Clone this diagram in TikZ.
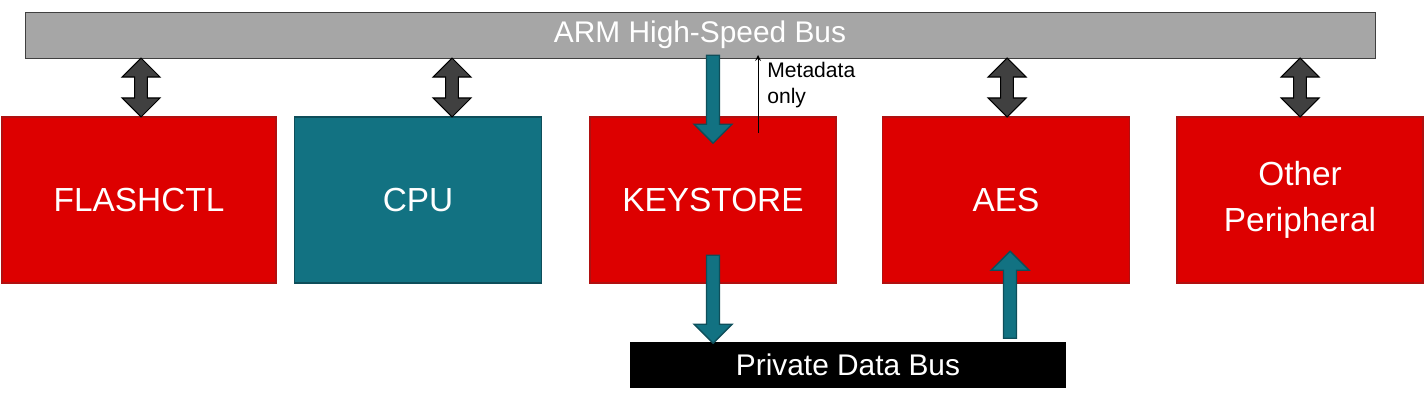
\documentclass[tikz,border=0pt]{standalone}
\usepackage{fontspec}
\setmainfont{Liberation Sans}
\usetikzlibrary{shapes.arrows}
\definecolor{red1}{HTML}{DD0000}
\definecolor{redb}{HTML}{B01010}
\definecolor{teal1}{HTML}{127282}
\definecolor{tealb}{HTML}{0E4E5A}
\definecolor{dg}{HTML}{404040}
\begin{document}
\begin{tikzpicture}[x=0.02cm,y=-0.02cm,
 blk/.style={draw=redb,line width=1pt,fill=red1,text=white,font=\fontsize{19}{22}\selectfont,align=center,inner sep=0pt},
 darr/.style={shape=double arrow,fill=dg,draw=black,line width=0.6pt,minimum width=0.76cm,double arrow head extend=0.2cm,inner sep=0.09cm,rotate=90},
 sarr/.style={shape=single arrow,fill=teal1,draw=tealb,line width=0.8pt,minimum width=0.76cm,single arrow head extend=0.2cm,inner sep=0.09cm}]
\useasboundingbox (0,0) rectangle (1425,412);
\node[draw=dg,fill=gray!70,minimum width=27cm,minimum height=0.92cm,inner sep=0pt,text=white,font=\fontsize{17}{20}\selectfont] (bus) at (700,35) {ARM High-Speed Bus};
\node[blk,minimum width=5.48cm,minimum height=3.32cm] (fl) at (139,200) {FLASHCTL};
\node[blk,fill=teal1,draw=tealb,minimum width=4.94cm,minimum height=3.32cm] (cpu) at (418,200) {CPU};
\node[blk,minimum width=4.92cm,minimum height=3.32cm] (ks) at (713,200) {KEYSTORE};
\node[blk,minimum width=4.94cm,minimum height=3.32cm] (aes) at (1006,200) {AES};
\node[blk,minimum width=4.92cm,minimum height=3.32cm] (oth) at (1300,200) {Other\\[4pt]Peripheral};
\node[fill=black,minimum width=8.74cm,minimum height=0.92cm,inner sep=0pt,text=white,font=\fontsize{17}{20}\selectfont] (pdb) at (848,365) {Private Data Bus};
\foreach \x/\n in {141/a1,452/a2,1007/a3,1300/a4}
  \node[darr,minimum height=1.18cm] (\n) at (\x,87.5) {};
\node[sarr,rotate=-90,minimum height=1.76cm] (k1) at (713,96) {};
\node[sarr,rotate=-90,minimum height=1.76cm] (k2) at (713,296) {};
\node[sarr,rotate=90,minimum height=1.74cm] (k3) at (1010,298) {};
\coordinate (m0) at (758,133);
\coordinate (m1) at (758,55);
\draw[-stealth,line width=0.5pt] (m0) -- (m1);
\node[anchor=north west,align=left,inner sep=0pt,font=\fontsize{12}{15}\selectfont] (md) at (767,62) {Metadata\\only};
\end{tikzpicture}
\end{document}
